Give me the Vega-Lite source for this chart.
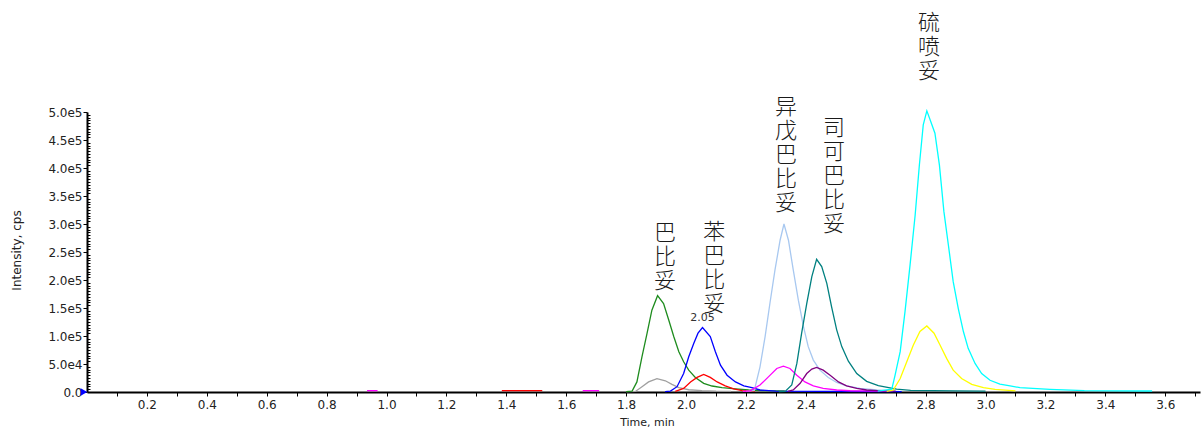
{
  "$schema": "https://vega.github.io/schema/vega-lite/v6.json",
  "width": 1113,
  "height": 280,
  "autosize": {"type": "none"},
  "padding": {"left": 87, "top": 112, "right": 2, "bottom": 38},
  "background": "white",
  "config": {"view": {"stroke": null}, "font": "DejaVu Sans"},
  "datasets": {
    "traces": [
      {"trace": "gray", "seg": "gray", "t": 1.80, "v": 500},
      {"trace": "gray", "seg": "gray", "t": 1.831, "v": 1000},
      {"trace": "gray", "seg": "gray", "t": 1.853, "v": 9500},
      {"trace": "gray", "seg": "gray", "t": 1.875, "v": 18000},
      {"trace": "gray", "seg": "gray", "t": 1.903, "v": 24000},
      {"trace": "gray", "seg": "gray", "t": 1.931, "v": 20000},
      {"trace": "gray", "seg": "gray", "t": 1.953, "v": 13700},
      {"trace": "gray", "seg": "gray", "t": 1.976, "v": 7700},
      {"trace": "gray", "seg": "gray", "t": 2.009, "v": 4000},
      {"trace": "gray", "seg": "gray", "t": 2.053, "v": 2400},
      {"trace": "gray", "seg": "gray", "t": 2.10, "v": 1500},
      {"trace": "gray", "seg": "gray", "t": 2.15, "v": 1200},

      {"trace": "green", "seg": "green", "t": 1.80, "v": 800},
      {"trace": "green", "seg": "green", "t": 1.820, "v": 1500},
      {"trace": "green", "seg": "green", "t": 1.836, "v": 18000},
      {"trace": "green", "seg": "green", "t": 1.853, "v": 63000},
      {"trace": "green", "seg": "green", "t": 1.870, "v": 105000},
      {"trace": "green", "seg": "green", "t": 1.886, "v": 146000},
      {"trace": "green", "seg": "green", "t": 1.905, "v": 172000},
      {"trace": "green", "seg": "green", "t": 1.925, "v": 158000},
      {"trace": "green", "seg": "green", "t": 1.942, "v": 129000},
      {"trace": "green", "seg": "green", "t": 1.959, "v": 99000},
      {"trace": "green", "seg": "green", "t": 1.976, "v": 72000},
      {"trace": "green", "seg": "green", "t": 1.992, "v": 54000},
      {"trace": "green", "seg": "green", "t": 2.009, "v": 39000},
      {"trace": "green", "seg": "green", "t": 2.031, "v": 26000},
      {"trace": "green", "seg": "green", "t": 2.059, "v": 15500},
      {"trace": "green", "seg": "green", "t": 2.087, "v": 10700},
      {"trace": "green", "seg": "green", "t": 2.120, "v": 7700},
      {"trace": "green", "seg": "green", "t": 2.165, "v": 5400},
      {"trace": "green", "seg": "green", "t": 2.209, "v": 3600},
      {"trace": "green", "seg": "green", "t": 2.26, "v": 2500},
      {"trace": "green", "seg": "green", "t": 2.33, "v": 2000},

      {"trace": "red", "seg": "red1", "t": 1.385, "v": 2400},
      {"trace": "red", "seg": "red1", "t": 1.52, "v": 2400},
      {"trace": "red", "seg": "red2", "t": 1.964, "v": 1000},
      {"trace": "red", "seg": "red2", "t": 1.992, "v": 6500},
      {"trace": "red", "seg": "red2", "t": 2.015, "v": 18000},
      {"trace": "red", "seg": "red2", "t": 2.037, "v": 26000},
      {"trace": "red", "seg": "red2", "t": 2.059, "v": 31500},
      {"trace": "red", "seg": "red2", "t": 2.081, "v": 26000},
      {"trace": "red", "seg": "red2", "t": 2.104, "v": 18000},
      {"trace": "red", "seg": "red2", "t": 2.131, "v": 11000},
      {"trace": "red", "seg": "red2", "t": 2.159, "v": 5400},
      {"trace": "red", "seg": "red2", "t": 2.187, "v": 2400},
      {"trace": "red", "seg": "red2", "t": 2.23, "v": 1500},

      {"trace": "blue", "seg": "blue", "t": 1.93, "v": 800},
      {"trace": "blue", "seg": "blue", "t": 1.948, "v": 1500},
      {"trace": "blue", "seg": "blue", "t": 1.970, "v": 9500},
      {"trace": "blue", "seg": "blue", "t": 1.992, "v": 33000},
      {"trace": "blue", "seg": "blue", "t": 2.009, "v": 63000},
      {"trace": "blue", "seg": "blue", "t": 2.026, "v": 87000},
      {"trace": "blue", "seg": "blue", "t": 2.040, "v": 105000},
      {"trace": "blue", "seg": "blue", "t": 2.055, "v": 115000},
      {"trace": "blue", "seg": "blue", "t": 2.081, "v": 99000},
      {"trace": "blue", "seg": "blue", "t": 2.098, "v": 72000},
      {"trace": "blue", "seg": "blue", "t": 2.115, "v": 48000},
      {"trace": "blue", "seg": "blue", "t": 2.137, "v": 30000},
      {"trace": "blue", "seg": "blue", "t": 2.165, "v": 18000},
      {"trace": "blue", "seg": "blue", "t": 2.193, "v": 11000},
      {"trace": "blue", "seg": "blue", "t": 2.220, "v": 7700},
      {"trace": "blue", "seg": "blue", "t": 2.247, "v": 3600},
      {"trace": "blue", "seg": "blue", "t": 2.30, "v": 1500},
      {"trace": "blue", "seg": "blue", "t": 2.45, "v": 1000},
      {"trace": "blue", "seg": "blue", "t": 2.65, "v": 900},
      {"trace": "blue", "seg": "blue", "t": 2.72, "v": 800},

      {"trace": "lightblue", "seg": "lightblue", "t": 2.20, "v": 1000},
      {"trace": "lightblue", "seg": "lightblue", "t": 2.228, "v": 3000},
      {"trace": "lightblue", "seg": "lightblue", "t": 2.247, "v": 45000},
      {"trace": "lightblue", "seg": "lightblue", "t": 2.264, "v": 99000},
      {"trace": "lightblue", "seg": "lightblue", "t": 2.280, "v": 158000},
      {"trace": "lightblue", "seg": "lightblue", "t": 2.297, "v": 218000},
      {"trace": "lightblue", "seg": "lightblue", "t": 2.314, "v": 271000},
      {"trace": "lightblue", "seg": "lightblue", "t": 2.327, "v": 300000},
      {"trace": "lightblue", "seg": "lightblue", "t": 2.342, "v": 271000},
      {"trace": "lightblue", "seg": "lightblue", "t": 2.358, "v": 218000},
      {"trace": "lightblue", "seg": "lightblue", "t": 2.375, "v": 164000},
      {"trace": "lightblue", "seg": "lightblue", "t": 2.392, "v": 117000},
      {"trace": "lightblue", "seg": "lightblue", "t": 2.408, "v": 81000},
      {"trace": "lightblue", "seg": "lightblue", "t": 2.425, "v": 57000},
      {"trace": "lightblue", "seg": "lightblue", "t": 2.447, "v": 39000},
      {"trace": "lightblue", "seg": "lightblue", "t": 2.475, "v": 26000},
      {"trace": "lightblue", "seg": "lightblue", "t": 2.503, "v": 17000},
      {"trace": "lightblue", "seg": "lightblue", "t": 2.536, "v": 11000},
      {"trace": "lightblue", "seg": "lightblue", "t": 2.581, "v": 6500},
      {"trace": "lightblue", "seg": "lightblue", "t": 2.637, "v": 3600},
      {"trace": "lightblue", "seg": "lightblue", "t": 2.69, "v": 1500},

      {"trace": "magenta", "seg": "magenta1", "t": 0.935, "v": 2400},
      {"trace": "magenta", "seg": "magenta1", "t": 0.97, "v": 2400},
      {"trace": "magenta", "seg": "magenta2", "t": 1.655, "v": 2400},
      {"trace": "magenta", "seg": "magenta2", "t": 1.71, "v": 2400},
      {"trace": "magenta", "seg": "magenta3", "t": 2.19, "v": 1000},
      {"trace": "magenta", "seg": "magenta3", "t": 2.214, "v": 2000},
      {"trace": "magenta", "seg": "magenta3", "t": 2.247, "v": 12500},
      {"trace": "magenta", "seg": "magenta3", "t": 2.275, "v": 27000},
      {"trace": "magenta", "seg": "magenta3", "t": 2.303, "v": 42000},
      {"trace": "magenta", "seg": "magenta3", "t": 2.325, "v": 46000},
      {"trace": "magenta", "seg": "magenta3", "t": 2.347, "v": 42000},
      {"trace": "magenta", "seg": "magenta3", "t": 2.370, "v": 30000},
      {"trace": "magenta", "seg": "magenta3", "t": 2.397, "v": 18000},
      {"trace": "magenta", "seg": "magenta3", "t": 2.425, "v": 11000},
      {"trace": "magenta", "seg": "magenta3", "t": 2.458, "v": 6500},
      {"trace": "magenta", "seg": "magenta3", "t": 2.503, "v": 3600},
      {"trace": "magenta", "seg": "magenta3", "t": 2.548, "v": 2200},
      {"trace": "magenta", "seg": "magenta3", "t": 2.65, "v": 1800},
      {"trace": "magenta", "seg": "magenta3", "t": 2.68, "v": 1500},

      {"trace": "purple", "seg": "purple", "t": 2.34, "v": 1000},
      {"trace": "purple", "seg": "purple", "t": 2.358, "v": 3600},
      {"trace": "purple", "seg": "purple", "t": 2.381, "v": 15500},
      {"trace": "purple", "seg": "purple", "t": 2.403, "v": 33000},
      {"trace": "purple", "seg": "purple", "t": 2.420, "v": 41000},
      {"trace": "purple", "seg": "purple", "t": 2.436, "v": 44000},
      {"trace": "purple", "seg": "purple", "t": 2.458, "v": 39000},
      {"trace": "purple", "seg": "purple", "t": 2.481, "v": 30000},
      {"trace": "purple", "seg": "purple", "t": 2.509, "v": 18000},
      {"trace": "purple", "seg": "purple", "t": 2.536, "v": 11000},
      {"trace": "purple", "seg": "purple", "t": 2.570, "v": 6500},
      {"trace": "purple", "seg": "purple", "t": 2.603, "v": 3600},
      {"trace": "purple", "seg": "purple", "t": 2.65, "v": 2000},
      {"trace": "purple", "seg": "purple", "t": 2.70, "v": 1500},

      {"trace": "teal", "seg": "teal", "t": 2.31, "v": 800},
      {"trace": "teal", "seg": "teal", "t": 2.331, "v": 1000},
      {"trace": "teal", "seg": "teal", "t": 2.353, "v": 12500},
      {"trace": "teal", "seg": "teal", "t": 2.370, "v": 51000},
      {"trace": "teal", "seg": "teal", "t": 2.386, "v": 105000},
      {"trace": "teal", "seg": "teal", "t": 2.403, "v": 158000},
      {"trace": "teal", "seg": "teal", "t": 2.420, "v": 206000},
      {"trace": "teal", "seg": "teal", "t": 2.436, "v": 237000},
      {"trace": "teal", "seg": "teal", "t": 2.453, "v": 224000},
      {"trace": "teal", "seg": "teal", "t": 2.470, "v": 194000},
      {"trace": "teal", "seg": "teal", "t": 2.486, "v": 152000},
      {"trace": "teal", "seg": "teal", "t": 2.503, "v": 111000},
      {"trace": "teal", "seg": "teal", "t": 2.520, "v": 81000},
      {"trace": "teal", "seg": "teal", "t": 2.542, "v": 55000},
      {"trace": "teal", "seg": "teal", "t": 2.570, "v": 33000},
      {"trace": "teal", "seg": "teal", "t": 2.603, "v": 19000},
      {"trace": "teal", "seg": "teal", "t": 2.642, "v": 11500},
      {"trace": "teal", "seg": "teal", "t": 2.681, "v": 7500},
      {"trace": "teal", "seg": "teal", "t": 2.703, "v": 5000},
      {"trace": "teal", "seg": "teal", "t": 2.75, "v": 3000},
      {"trace": "teal", "seg": "teal", "t": 2.90, "v": 2000},
      {"trace": "teal", "seg": "teal", "t": 3.00, "v": 1500},

      {"trace": "yellow", "seg": "yellow", "t": 2.67, "v": 1000},
      {"trace": "yellow", "seg": "yellow", "t": 2.692, "v": 3600},
      {"trace": "yellow", "seg": "yellow", "t": 2.715, "v": 24000},
      {"trace": "yellow", "seg": "yellow", "t": 2.737, "v": 54000},
      {"trace": "yellow", "seg": "yellow", "t": 2.759, "v": 84000},
      {"trace": "yellow", "seg": "yellow", "t": 2.781, "v": 108000},
      {"trace": "yellow", "seg": "yellow", "t": 2.804, "v": 118000},
      {"trace": "yellow", "seg": "yellow", "t": 2.828, "v": 105000},
      {"trace": "yellow", "seg": "yellow", "t": 2.848, "v": 84000},
      {"trace": "yellow", "seg": "yellow", "t": 2.870, "v": 60000},
      {"trace": "yellow", "seg": "yellow", "t": 2.892, "v": 39000},
      {"trace": "yellow", "seg": "yellow", "t": 2.920, "v": 24000},
      {"trace": "yellow", "seg": "yellow", "t": 2.954, "v": 13700},
      {"trace": "yellow", "seg": "yellow", "t": 2.993, "v": 7700},
      {"trace": "yellow", "seg": "yellow", "t": 3.032, "v": 4800},
      {"trace": "yellow", "seg": "yellow", "t": 3.10, "v": 2000},

      {"trace": "cyan", "seg": "cyan", "t": 2.64, "v": 1500},
      {"trace": "cyan", "seg": "cyan", "t": 2.687, "v": 5000},
      {"trace": "cyan", "seg": "cyan", "t": 2.698, "v": 30000},
      {"trace": "cyan", "seg": "cyan", "t": 2.715, "v": 72000},
      {"trace": "cyan", "seg": "cyan", "t": 2.731, "v": 143000},
      {"trace": "cyan", "seg": "cyan", "t": 2.748, "v": 227000},
      {"trace": "cyan", "seg": "cyan", "t": 2.765, "v": 316000},
      {"trace": "cyan", "seg": "cyan", "t": 2.779, "v": 405000},
      {"trace": "cyan", "seg": "cyan", "t": 2.792, "v": 477000},
      {"trace": "cyan", "seg": "cyan", "t": 2.804, "v": 502000},
      {"trace": "cyan", "seg": "cyan", "t": 2.817, "v": 483000},
      {"trace": "cyan", "seg": "cyan", "t": 2.831, "v": 462000},
      {"trace": "cyan", "seg": "cyan", "t": 2.846, "v": 405000},
      {"trace": "cyan", "seg": "cyan", "t": 2.861, "v": 322000},
      {"trace": "cyan", "seg": "cyan", "t": 2.876, "v": 262000},
      {"trace": "cyan", "seg": "cyan", "t": 2.892, "v": 197000},
      {"trace": "cyan", "seg": "cyan", "t": 2.909, "v": 149000},
      {"trace": "cyan", "seg": "cyan", "t": 2.926, "v": 108000},
      {"trace": "cyan", "seg": "cyan", "t": 2.942, "v": 78000},
      {"trace": "cyan", "seg": "cyan", "t": 2.965, "v": 51000},
      {"trace": "cyan", "seg": "cyan", "t": 2.987, "v": 33000},
      {"trace": "cyan", "seg": "cyan", "t": 3.015, "v": 21000},
      {"trace": "cyan", "seg": "cyan", "t": 3.048, "v": 14000},
      {"trace": "cyan", "seg": "cyan", "t": 3.082, "v": 11000},
      {"trace": "cyan", "seg": "cyan", "t": 3.115, "v": 7700},
      {"trace": "cyan", "seg": "cyan", "t": 3.215, "v": 4800},
      {"trace": "cyan", "seg": "cyan", "t": 3.33, "v": 2400},
      {"trace": "cyan", "seg": "cyan", "t": 3.556, "v": 1800}
    ],
    "labels": [
      {"name": "巴\n比\n妥", "t": 1.930, "v": 301800},
      {"name": "苯\n巴\n比\n妥", "t": 2.094, "v": 303600},
      {"name": "异\n戊\n巴\n比\n妥", "t": 2.334, "v": 526800},
      {"name": "司\n可\n巴\n比\n妥", "t": 2.494, "v": 489300},
      {"name": "硫\n喷\n妥", "t": 2.811, "v": 676800}
    ],
    "peaklabels": [
      {"name": "2.05", "t": 2.055, "v": 132000}
    ],
    "marker": [
      {"t": 0, "v": 0}
    ]
  },
  "encoding": {
    "x": {
      "field": "t", "type": "quantitative",
      "scale": {"domain": [0, 3.716], "nice": false, "zero": false},
      "axis": {
        "title": "Time, min",
        "values": [0.1,0.2,0.3,0.4,0.5,0.6,0.7,0.8,0.9,1.0,1.1,1.2,1.3,1.4,1.5,1.6,1.7,1.8,1.9,2.0,2.1,2.2,2.3,2.4,2.5,2.6,2.7,2.8,2.9,3.0,3.1,3.2,3.3,3.4,3.5,3.6,3.7],
        "labelExpr": "round(datum.value*10) % 2 === 0 ? format(datum.value, '.1f') : ''",
        "grid": false,
        "domainColor": "#000000", "domainWidth": 2,
        "tickColor": "#000000", "tickSize": 4, "tickWidth": 1,
        "labelFont": "DejaVu Sans", "labelFontSize": 12, "labelColor": "#222222",
        "labelPadding": 3, "labelOverlap": false, "labelFlush": false, "labelBound": false,
        "titleFont": "DejaVu Sans", "titleFontSize": 11, "titleFontWeight": "normal", "titleColor": "#222222",
        "titleX": 560, "titleY": 30, "titleBaseline": "middle", "titleAlign": "center"
      }
    },
    "y": {
      "field": "v", "type": "quantitative",
      "scale": {"domain": [0, 500000], "nice": false},
      "axis": {
        "title": "Intensity, cps",
        "values": [0,5000,10000,15000,20000,25000,30000,35000,40000,45000,50000,55000,60000,65000,70000,75000,80000,85000,90000,95000,100000,105000,110000,115000,120000,125000,130000,135000,140000,145000,150000,155000,160000,165000,170000,175000,180000,185000,190000,195000,200000,205000,210000,215000,220000,225000,230000,235000,240000,245000,250000,255000,260000,265000,270000,275000,280000,285000,290000,295000,300000,305000,310000,315000,320000,325000,330000,335000,340000,345000,350000,355000,360000,365000,370000,375000,380000,385000,390000,395000,400000,405000,410000,415000,420000,425000,430000,435000,440000,445000,450000,455000,460000,465000,470000,475000,480000,485000,490000,495000,500000],
        "labelExpr": "datum.value % 50000 === 0 ? (datum.value === 0 ? '0.0' : replace(format(datum.value, '.1e'), 'e+', 'e')) : ''",
        "grid": false,
        "domainColor": "#000000", "domainWidth": 2,
        "tickColor": "#000000", "tickWidth": 1,
        "tickSize": {"condition": {"test": "datum.value % 50000 === 0", "value": 4}, "value": -3},
        "labelFont": "DejaVu Sans", "labelFontSize": 12, "labelColor": "#222222",
        "labelPadding": 1, "labelOverlap": false, "labelFlush": false, "labelBound": false,
        "titleFont": "DejaVu Sans", "titleFontSize": 12, "titleFontWeight": "normal", "titleColor": "#222222",
        "titleX": -71, "titleY": 138, "titleAngle": -90, "titleBaseline": "middle", "titleAlign": "center"
      }
    }
  },
  "layer": [
    {
      "data": {"name": "traces"},
      "mark": {"type": "line", "strokeWidth": 1.3, "clip": false},
      "encoding": {
        "color": {
          "field": "trace", "type": "nominal",
          "scale": {
            "domain": ["gray", "green", "red", "blue", "lightblue", "magenta", "purple", "teal", "yellow", "cyan"],
            "range": ["#a0a0a0", "#1e8c1e", "#ff0000", "#0000ff", "#a8c8f0", "#ff00ff", "#800080", "#008080", "#ffff00", "#00ffff"]
          },
          "legend": null
        },
        "detail": {"field": "seg", "type": "nominal"}
      }
    },
    {
      "data": {"name": "labels"},
      "mark": {"type": "text", "font": "Noto Sans CJK SC", "fontSize": 22, "fontWeight": 300, "lineBreak": "\n", "lineHeight": 24, "baseline": "top", "align": "center", "color": "#1a1a1a"},
      "encoding": {
        "text": {"field": "name", "type": "nominal"}
      }
    },
    {
      "data": {"name": "peaklabels"},
      "mark": {"type": "text", "font": "DejaVu Sans", "fontSize": 11, "baseline": "middle", "align": "center", "color": "#333333"},
      "encoding": {
        "text": {"field": "name", "type": "nominal"}
      }
    },
    {
      "data": {"name": "marker"},
      "mark": {"type": "point", "shape": "triangle-right", "filled": true, "color": "#0000ff", "opacity": 1, "size": 60, "xOffset": -3}
    }
  ]
}
